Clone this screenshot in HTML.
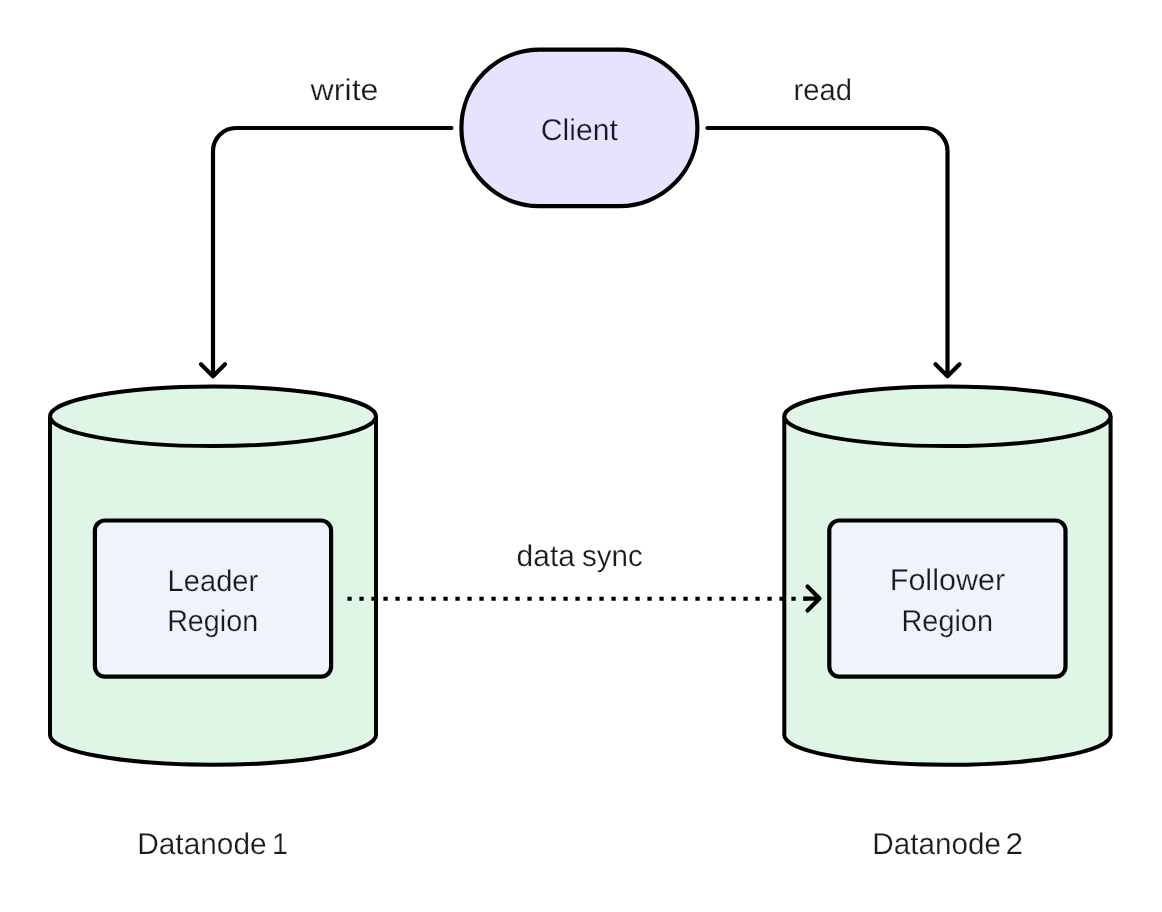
<!DOCTYPE html>
<html><head><meta charset="utf-8">
<style>
html,body{margin:0;padding:0;background:#fff;}
body{width:1162px;height:912px;overflow:hidden;}
svg{display:block;will-change:transform;text-rendering:geometricPrecision;}
text{font-family:"Liberation Sans",sans-serif;fill:#171b21;font-size:30px;stroke-width:0.25px;}
</style></head>
<body>
<svg width="1162" height="912" viewBox="0 0 1162 912">
<rect x="0" y="0" width="1162" height="912" fill="#ffffff"/>
<g fill="none" stroke="#000" stroke-width="4.2" stroke-linecap="round" stroke-linejoin="round">
  <path d="M451.5 128 H236 A23 23 0 0 0 213 151 V375.5"/>
  <path d="M201 364.3 L213 376.2 L225 364.3"/>
  <path d="M707.4 128 H924.5 A23 23 0 0 1 947.5 151 V375.5"/>
  <path d="M935.5 364.3 L947.5 376.2 L959.5 364.3"/>
</g>
<rect x="461.4" y="49.7" width="236" height="156.5" rx="78" ry="78" fill="#e9e2fe" stroke="#000" stroke-width="4.2"/>
<g stroke="#000" stroke-width="4" fill="#dff5e5">
  <path d="M50 416.3 V735 A163 29.8 0 0 0 376 735 V416.3"/>
  <ellipse cx="213" cy="416.3" rx="163" ry="29.8"/>
  <path d="M784.3 416.3 V735 A163.15 29.8 0 0 0 1110.6 735 V416.3"/>
  <ellipse cx="947.45" cy="416.3" rx="163.15" ry="29.8"/>
</g>
<g stroke="#000" stroke-width="4.2" fill="#eef3fc">
  <rect x="94.9" y="520.5" width="236.2" height="156.1" rx="10" ry="10"/>
  <rect x="829.3" y="520.5" width="236.2" height="156.1" rx="10" ry="10"/>
</g>
<g fill="none" stroke="#000" stroke-width="4">
  <path d="M347.4 598.7 H807.5" stroke-dasharray="4.3 7.7"/>
  <path d="M803.4 598.6 H818" stroke-width="4.2"/>
</g>
<path d="M807.5 586.6 L819.5 598.6 L807.5 610.6" fill="none" stroke="#000" stroke-width="4.2" stroke-linecap="round" stroke-linejoin="round"/>
<text x="310.53" y="100.2" textLength="68.02" lengthAdjust="spacingAndGlyphs" stroke="#ffffff">write</text>
<text x="793.55" y="100.2" textLength="58.55" lengthAdjust="spacingAndGlyphs" stroke="#ffffff">read</text>
<text x="540.74" y="139.9" textLength="77.07" lengthAdjust="spacingAndGlyphs" stroke="#e9e2fe">Client</text>
<text x="167.59" y="590.5" textLength="90.62" lengthAdjust="spacingAndGlyphs" stroke="#eef3fc">Leader</text>
<text x="167.13" y="631.3" textLength="91.06" lengthAdjust="spacingAndGlyphs" stroke="#eef3fc">Region</text>
<text x="889.75" y="590.4" textLength="115.35" lengthAdjust="spacingAndGlyphs" stroke="#eef3fc">Follower</text>
<text x="901.51" y="631.1" textLength="91.49" lengthAdjust="spacingAndGlyphs" stroke="#eef3fc">Region</text>
<text x="516.60" y="566.0" textLength="58.29" lengthAdjust="spacingAndGlyphs" stroke="#ffffff">data</text>
<text x="582.03" y="566.0" textLength="60.84" lengthAdjust="spacingAndGlyphs" stroke="#ffffff">sync</text>
<text x="137.21" y="854.4" textLength="129.48" lengthAdjust="spacingAndGlyphs" stroke="#ffffff">Datanode</text>
<text x="271.93" y="854.4" textLength="15.99" lengthAdjust="spacingAndGlyphs" stroke="#ffffff">1</text>
<text x="872.23" y="854.4" textLength="128.76" lengthAdjust="spacingAndGlyphs" stroke="#ffffff">Datanode</text>
<text x="1005.49" y="854.4" textLength="17.59" lengthAdjust="spacingAndGlyphs" stroke="#ffffff">2</text>
</svg>
</body></html>
